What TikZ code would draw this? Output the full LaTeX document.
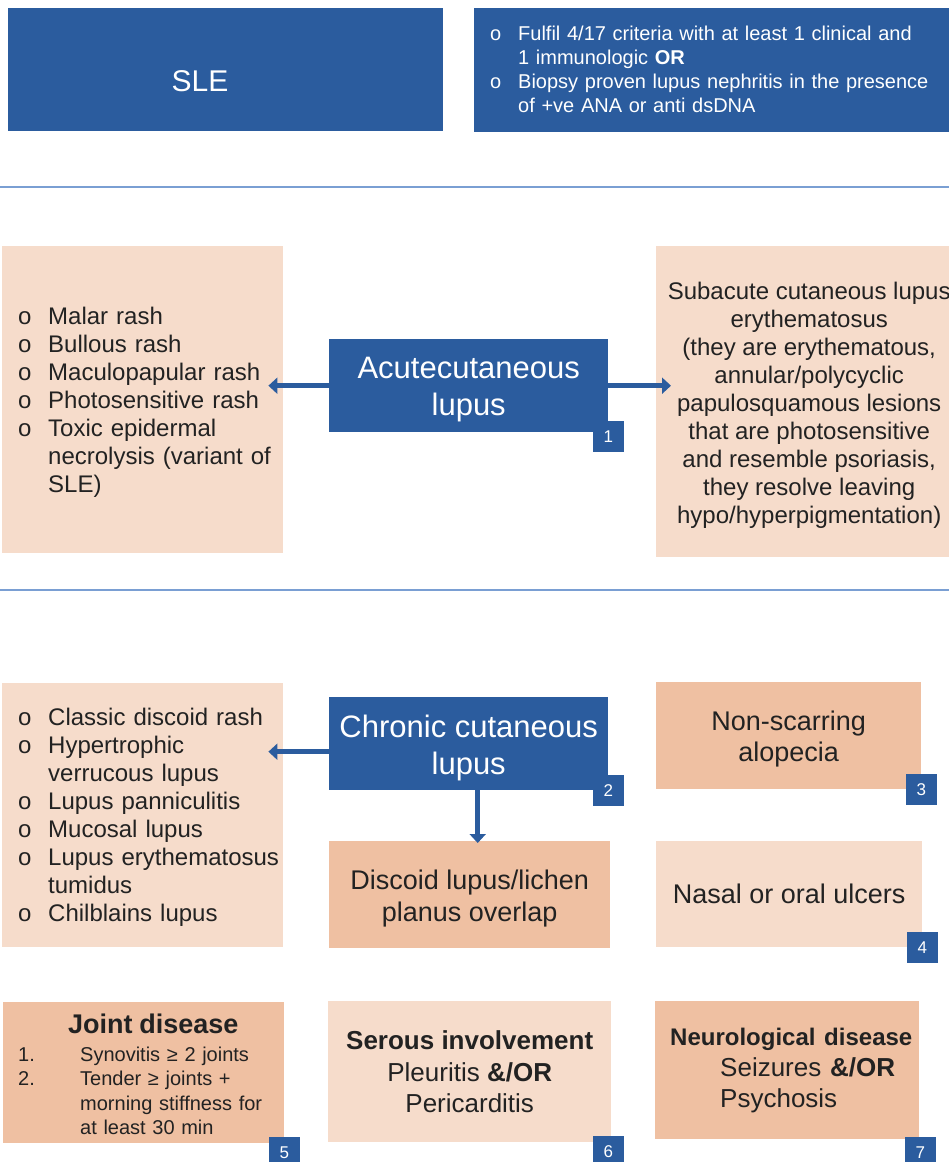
\documentclass[tikz,border=0pt]{standalone}
\usepackage{fontspec}
\setmainfont{Liberation Sans}
\usepackage{xcolor}
\usepackage{tikz}
\usetikzlibrary{arrows.meta,positioning,calc}
\definecolor{sleblue}{HTML}{2B5C9E}
\definecolor{peachlt}{HTML}{F6DCCB}
\definecolor{peachdk}{HTML}{EFC0A2}
\definecolor{rulerblue}{HTML}{7A9FD3}
\definecolor{ink}{HTML}{222222}
\newcommand{\fsz}[2]{\fontsize{#1}{#2}\selectfont}
\tikzset{
  bluebox/.style={rectangle, fill=sleblue, text=white, inner sep=0pt,
    align=center, font=\fsz{31}{37}},
  peachbox/.style={rectangle, fill=#1, text=ink, inner sep=0pt,
    align=center, font=\fsz{27}{32}},
  peachbox/.default=peachlt,
  listbox/.style={peachbox, align=left, inner xsep=16pt, font=\fsz{24}{28}},
  badge/.style={rectangle, fill=sleblue, text=white, minimum size=31pt,
    inner sep=0pt, font=\fsz{17}{17}},
  fatarrow/.style={-{Triangle[length=9pt,width=16pt]}, line width=5.5pt,
    draw=sleblue},
  divider/.style={draw=rulerblue, line width=1.6pt},
}

\begin{document}
\begin{tikzpicture}[x=1pt, y=-1pt]
\useasboundingbox (0,0) rectangle (949,1162);
\clip (0,0) rectangle (949,1162);
% header
\node[bluebox, anchor=north west, minimum width=435pt, minimum height=123pt] (sle) at (8,8) {};
\node[text=white, font=\fsz{30}{36}] (sletext) at (200,81) {SLE};
\node[bluebox, anchor=north west, minimum width=476pt, minimum height=124pt,
  align=left, text width=444pt, inner xsep=16pt, font=\fsz{20}{24}] (criteria) at (474,8)
  {\begin{tabular}{@{}p{28pt}@{}l@{}}
   o & \rule{0pt}{20pt}Fulfil 4/17 criteria with at least 1 clinical and\\
     & 1 immunologic \textbf{OR}\\
   o & Biopsy proven lupus nephritis in the presence\\
     & of +ve ANA or anti dsDNA
   \end{tabular}};
\draw[divider] (0,187) -- (949,187);

% acute cutaneous
\node[listbox, anchor=north west, minimum width=281pt, minimum height=307pt, text width=249pt] (acutelist) at (2,246)
  {\begin{tabular}{@{}p{30pt}@{}l@{}}
   o & \rule{0pt}{26pt}Malar rash\\
   o & Bullous rash\\
   o & Maculopapular rash\\
   o & Photosensitive rash\\
   o & Toxic epidermal\\
     & necrolysis (variant of\\
     & SLE)
   \end{tabular}};
\node[bluebox, anchor=north west, minimum width=279pt, minimum height=93pt] (acute) at (329,339)
  {\rule{0pt}{30pt}Acutecutaneous\\lupus};
\node[peachbox, anchor=north west, minimum width=306pt, minimum height=311pt, font=\fsz{24}{28}] (subacute) at (656,246)
  {\rule{0pt}{24pt}Subacute cutaneous lupus\\erythematosus\\(they are erythematous,\\annular/polycyclic\\papulosquamous lesions\\that are photosensitive\\and resemble psoriasis,\\they resolve leaving\\hypo/hyperpigmentation)};
\node[badge] (b1) at ([yshift=-4pt]acute.south east) {1};
\draw[fatarrow, shorten >=-15pt] (acute.west) -- (acute.west -| acutelist.east);
\draw[fatarrow, shorten >=-15pt] (acute.east) -- (acute.east -| subacute.west);
\draw[divider] (0,590) -- (949,590);

% chronic cutaneous
\node[listbox, anchor=north west, minimum width=281pt, minimum height=264pt, text width=249pt] (chroniclist) at (2,683)
  {\begin{tabular}{@{}p{30pt}@{}l@{}}
   o & \rule{0pt}{24pt}Classic discoid rash\\
   o & Hypertrophic\\
     & verrucous lupus\\
   o & Lupus panniculitis\\
   o & Mucosal lupus\\
   o & Lupus erythematosus\\
     & tumidus\\
   o & Chilblains lupus
   \end{tabular}};
\node[bluebox, anchor=north west, minimum width=279pt, minimum height=93pt] (chronic) at (329,697)
  {\rule{0pt}{32pt}Chronic cutaneous\\lupus};
\node[peachbox=peachdk, anchor=north west, minimum width=281pt, minimum height=107pt] (discoid) at (329,841)
  {\rule{0pt}{27pt}Discoid lupus/lichen\\planus overlap};
\node[peachbox=peachdk, anchor=north west, minimum width=265pt, minimum height=107pt, font=\fsz{27}{31}] (alopecia) at (656,682)
  {\rule{0pt}{26pt}Non-scarring\\alopecia};
\node[peachbox, anchor=north west, minimum width=266pt, minimum height=106pt] (ulcers) at (656,841)
  {Nasal or oral ulcers};
\node[badge] (b2) at (chronic.south east) {2};
\node[badge] (b3) at (alopecia.south east) {3};
\node[badge] (b4) at (ulcers.south east) {4};
\draw[fatarrow, shorten >=-15pt] ([yshift=-8pt]chronic.west) -- ([yshift=-8pt]chronic.west -| chroniclist.east);
\draw[fatarrow, shorten >=-2pt] ([xshift=9pt]chronic.south) -- ([xshift=9pt]chronic.south |- discoid.north);

% bottom row
\node[peachbox=peachdk, anchor=north west, minimum width=281pt, minimum height=141pt,
  align=left, inner xsep=15pt, text width=251pt, font=\fsz{20}{24.5}] (joint) at (3,1002)
  {\rule{0pt}{30pt}\hspace*{50pt}{\fsz{27}{30}\bfseries Joint disease}\\[3.5pt]
   \begin{tabular}[t]{@{}p{62pt}@{}l@{}}
   1. & Synovitis ≥ 2 joints\\
   2. & Tender ≥ joints +\\
      & morning stiffness for\\
      & at least 30 min
   \end{tabular}};
\node[peachbox, anchor=north west, minimum width=283pt, minimum height=141pt, font=\fsz{26}{31.5}] (serous) at (328,1001)
  {\textbf{Serous involvement}\\Pleuritis \textbf{\&/OR}\\Pericarditis};
\node[peachbox=peachdk, anchor=north west, minimum width=264pt, minimum height=138pt,
  align=left, inner xsep=15pt, text width=234pt, font=\fsz{26}{31}] (neuro) at (655,1001)
  {\mbox{\fsz{24}{31}\bfseries Neurological disease}\\
   \hspace*{50pt}Seizures \textbf{\&/OR}\\
   \hspace*{50pt}Psychosis};
\node[badge] (b5) at ([yshift=-9pt]joint.south east) {5};
\node[badge] (b6) at ([xshift=-3pt,yshift=-9pt]serous.south east) {6};
\node[badge] (b7) at ([xshift=1pt,yshift=-13pt]neuro.south east) {7};
\end{tikzpicture}
\end{document}
